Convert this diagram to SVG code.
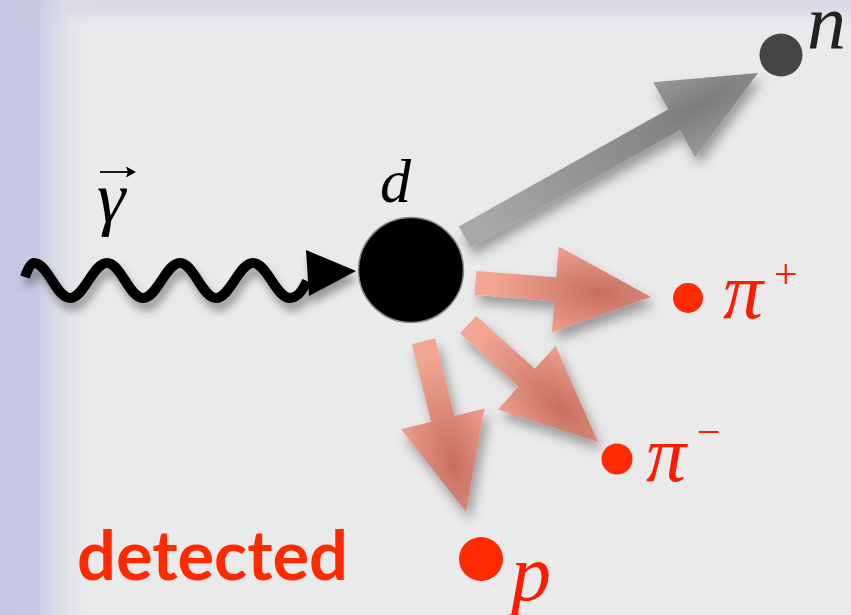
<svg xmlns="http://www.w3.org/2000/svg" width="851" height="615" viewBox="0 0 851 615">
<defs>
  <linearGradient id="bgLeft" gradientUnits="userSpaceOnUse" x1="0" y1="0" x2="95" y2="0">
    <stop offset="0" stop-color="#C4C6E2"/>
    <stop offset="0.4" stop-color="#C9CBE4"/>
    <stop offset="1" stop-color="#EAEAEA" stop-opacity="0"/>
  </linearGradient>
  <linearGradient id="bgTop" gradientUnits="userSpaceOnUse" x1="0" y1="0" x2="0" y2="36">
    <stop offset="0" stop-color="#D8D8E7"/>
    <stop offset="0.3" stop-color="#DCDCE8"/>
    <stop offset="1" stop-color="#EAEAEA" stop-opacity="0"/>
  </linearGradient>
  <radialGradient id="gradGray" cx="0.8" cy="0.5" r="0.75">
    <stop offset="0" stop-color="#7C7C7C"/>
    <stop offset="1" stop-color="#A8A8A8"/>
  </radialGradient>
  <radialGradient id="gradRed" cx="0.72" cy="0.5" r="0.62">
    <stop offset="0" stop-color="#C56E5F"/>
    <stop offset="1" stop-color="#F2A593"/>
  </radialGradient>
  <filter id="shadow" x="-30%" y="-30%" width="160%" height="160%">
    <feDropShadow dx="4" dy="8" stdDeviation="6" flood-color="#000" flood-opacity="0.35"/>
  </filter>
  <filter id="shadowWave" x="-10%" y="-40%" width="120%" height="180%">
    <feDropShadow dx="3" dy="8" stdDeviation="4" flood-color="#000" flood-opacity="0.35"/>
  </filter>
</defs>
<style>
  .math { font-family: "Liberation Serif", "Times New Roman", serif; font-style: italic; }
  .sup { font-family: "Liberation Serif", "Times New Roman", serif; font-style: normal; }
  .red { fill: #FF1A00; }
  .redDot { fill: #FF2A00; }
  .redArrow { fill: url(#gradRed); }
  .grayArrow { fill: url(#gradGray); }
</style>

<!-- background -->
<rect x="0" y="0" width="851" height="615" fill="#EAEAEA"/>
<rect x="0" y="0" width="851" height="36" fill="url(#bgTop)"/>
<rect x="0" y="0" width="95" height="615" fill="url(#bgLeft)"/>

<!-- connectors -->
<g id="connectors">
  <g id="photon" filter="url(#shadowWave)">
    <path d="M 25 277 C 28 268, 31 263, 34 263 C 48 263, 56 298, 70 298 S 93 263, 107 263 S 129 298, 143 298 S 166 263, 180 263 S 202 298, 216 298 S 239 263, 253 263 S 276 298, 290 298 C 297 298, 302 292, 307 281" fill="none" stroke="#000" stroke-width="10"/>
    <polygon points="306,250 356,271 309,296" fill="#000"/>
  </g>
  <g id="arrow-n" filter="url(#shadow)">
    <polygon class="grayArrow" transform="translate(758,73) rotate(-29.2)" points="0,0 -96,-43 -96,-12 -336,-12 -336,12 -96,12 -96,43"/>
  </g>
  <g id="arrow-piplus" filter="url(#shadow)">
    <polygon class="redArrow" transform="translate(651,297) rotate(4.6)" points="0,0 -96,-43 -96,-12 -176,-12 -176,12 -96,12 -96,43"/>
  </g>
  <g id="arrow-piminus" filter="url(#shadow)">
    <polygon class="redArrow" transform="translate(598,442) rotate(42.1)" points="0,0 -96,-43 -96,-12 -175,-12 -175,12 -96,12 -96,43"/>
  </g>
  <g id="arrow-p" filter="url(#shadow)">
    <polygon class="redArrow" transform="translate(466,512) rotate(76)" points="0,0 -96,-43 -96,-12 -176,-12 -176,12 -96,12 -96,43"/>
  </g>
</g>

<!-- photon label -->
<g id="gamma">
  <text class="math" x="97" y="222" font-size="72">γ</text>
  <path d="M 100 172 L 132 172" stroke="#000" stroke-width="1.8" fill="none"/>
  <polygon points="136,172 126,166.5 128,172 126,177.5" fill="#000"/>
</g>

<!-- deuteron -->
<g id="deuteron">
  <circle cx="411" cy="270" r="52.5" fill="#000" stroke="#8A8A8A" stroke-width="1.5"/>
  <text class="math" x="380" y="202" font-size="62">d</text>
</g>

<!-- neutron -->
<g id="neutron">
  <circle cx="781" cy="55" r="21.5" fill="#464646"/>
  <text class="math" x="807" y="49" font-size="78" fill="#222">n</text>
</g>

<!-- pi plus -->
<g id="piplus">
  <circle class="redDot" cx="688" cy="298" r="15"/>
  <text class="math red" x="723" y="318" font-size="80">π</text>
  <text class="sup red" x="774" y="288" font-size="42">+</text>
</g>

<!-- pi minus -->
<g id="piminus">
  <circle class="redDot" cx="617" cy="459" r="15.5"/>
  <text class="math red" x="646" y="481" font-size="80">π</text>
  <text class="sup red" x="697" y="446" font-size="42">−</text>
</g>

<!-- proton -->
<g id="proton">
  <circle class="redDot" cx="481" cy="559" r="22"/>
  <text class="math red" x="511" y="600" font-size="80">p</text>
</g>

<!-- detected label -->
<g id="detected">
  <text x="77" y="580" font-family="Lato, 'Open Sans', sans-serif" font-weight="700" font-size="68" fill="#FF2A00" textLength="271" lengthAdjust="spacingAndGlyphs">detected</text>
</g>
</svg>
